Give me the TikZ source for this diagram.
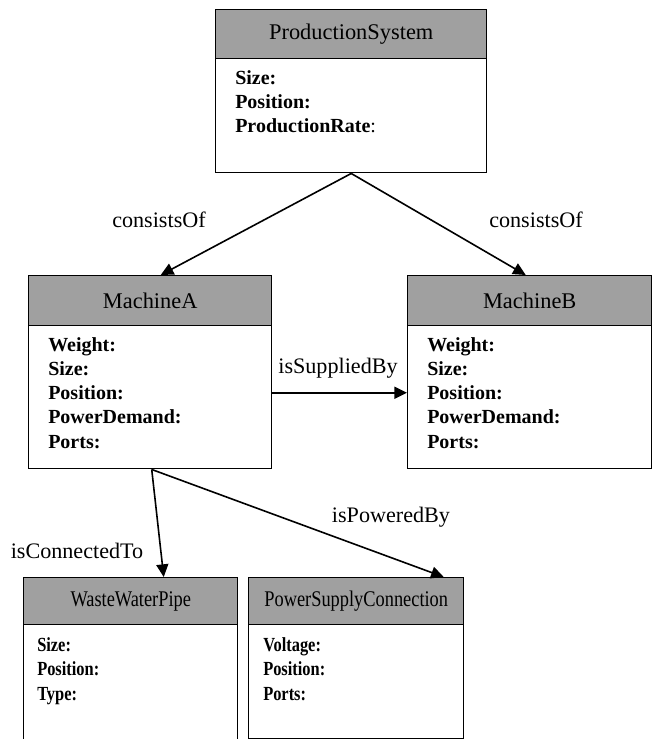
\documentclass[tikz,border=0pt]{standalone}
\usepackage{fontspec}
\setmainfont{Liberation Serif}
\newfontfamily\narrowfont[FakeStretch=0.82]{Liberation Serif}
\usetikzlibrary{arrows.meta}
\definecolor{headgray}{RGB}{160,160,160}
\tikzset{
  head/.style={draw, fill=headgray, line width=1.1pt, inner sep=0pt, anchor=north west,
    font=\fontsize{16.8}{20}\selectfont},
  body/.style={draw, fill=white, line width=1.1pt, inner sep=0pt, anchor=north west},
  attr/.style={anchor=north west, inner sep=0pt, align=left,
    font=\fontsize{15}{18.2}\selectfont\bfseries},
  narrow head/.style={head, font=\narrowfont\fontsize{16.8}{20}\selectfont},
  narrow attr/.style={attr, font=\narrowfont\fontsize{15}{18.6}\selectfont\bfseries},
  rel/.style={line width=1.2pt, -{Triangle[length=9.5pt,width=9pt]}},
  lbl/.style={font=\fontsize{16.6}{20}\selectfont},
}
\begin{document}
\begin{tikzpicture}[x=0.75pt,y=-0.75pt]
\useasboundingbox (0,0) rectangle (656,739);

% ProductionSystem
\node[body, minimum width=203.25pt, minimum height=85.5pt] (ps body) at (215,58) {};
\node[head, minimum width=203.25pt, minimum height=36.75pt] (ps head) at (215,9) {ProductionSystem};
\node[attr] (ps attr) at (235,70) {Size:\\Position:\\ProductionRate\textmd{:}};

% MachineA
\node[body, minimum width=182.25pt, minimum height=107.25pt] (ma body) at (28,325) {};
\node[head, minimum width=182.25pt, minimum height=37.5pt] (ma head) at (28,275) {MachineA};
\node[attr] (ma attr) at (48,337) {Weight:\\Size:\\Position:\\PowerDemand:\\Ports:};

% MachineB
\node[body, minimum width=183pt, minimum height=107.25pt] (mb body) at (407,325) {};
\node[head, minimum width=183pt, minimum height=37.5pt] (mb head) at (407,275) {MachineB};
\node[attr] (mb attr) at (427,337) {Weight:\\Size:\\Position:\\PowerDemand:\\Ports:};

% WasteWaterPipe
\node[body, minimum width=160.5pt, minimum height=87.75pt] (wwp body) at (23,624) {};
\node[narrow head, minimum width=160.5pt, minimum height=35.25pt] (wwp head) at (23,577) {WasteWaterPipe};
\node[narrow attr] (wwp attr) at (37,637) {Size:\\Position:\\Type:};

% PowerSupplyConnection
\node[body, minimum width=161.25pt, minimum height=85.5pt] (psc body) at (248,624) {};
\node[narrow head, minimum width=161.25pt, minimum height=35.25pt] (psc head) at (248,577) {PowerSupplyConnection};
\node[narrow attr] (psc attr) at (263,637) {Voltage:\\Position:\\Ports:};

% relations
\draw[rel] (ps body.south) -- ([shift={(10.5,0)}]ma head.north);
\draw[rel] (ps body.south) -- ([shift={(-4,0)}]mb head.north);
\draw[rel] ([shift={(0,-4.5)}]ma body.east) -- ([shift={(0,-4.5)}]mb body.west);
\draw[rel] ([shift={(1.5,0)}]ma body.south) -- ([shift={(33,0)}]wwp head.north);
\draw[rel] ([shift={(1.5,0)}]ma body.south) -- ([shift={(87.5,0)}]psc head.north);

\node[lbl] (consists a) at (159,220) {consistsOf};
\node[lbl] (consists b) at (536,220) {consistsOf};
\node[lbl] (supplied) at (338,368) {isSuppliedBy};
\node[lbl] (connected) at (77,551) {isConnectedTo};
\node[lbl] (powered) at (391,517) {isPoweredBy};
\end{tikzpicture}
\end{document}
